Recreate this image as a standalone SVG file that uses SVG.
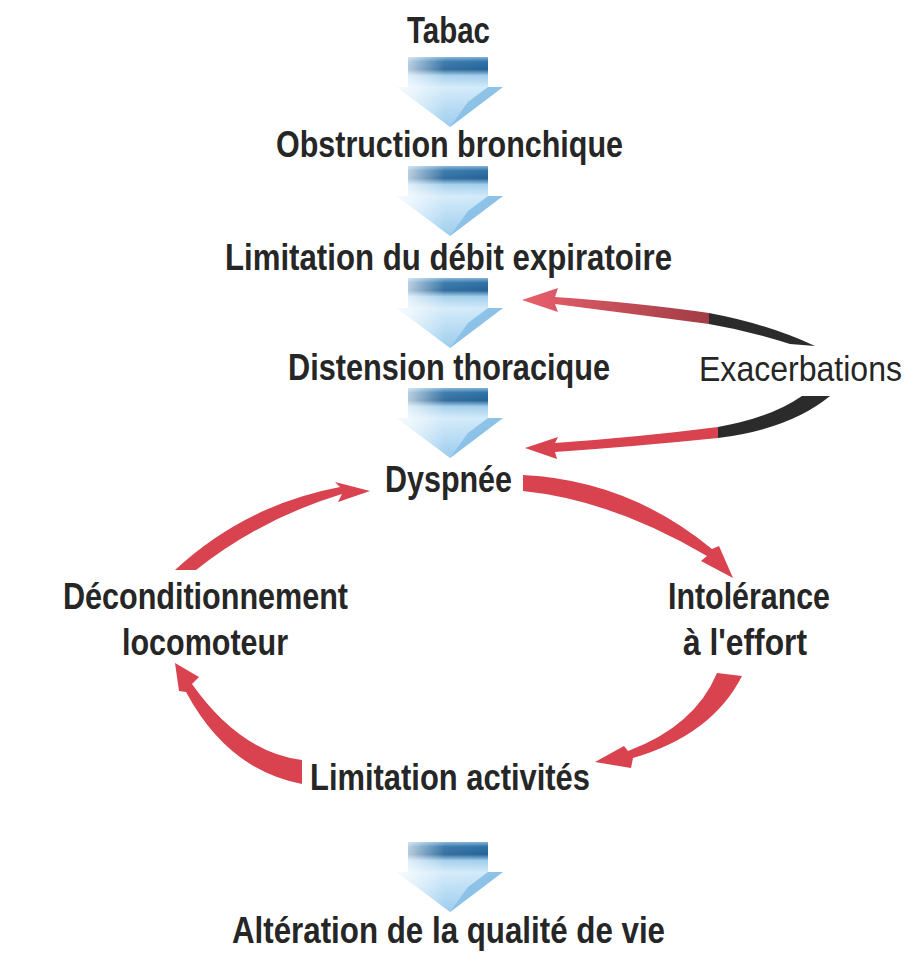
<svg xmlns="http://www.w3.org/2000/svg" xmlns:xlink="http://www.w3.org/1999/xlink" width="921" height="955" viewBox="0 0 921 955">
<style>
text{font-family:"Liberation Sans Narrow","Liberation Sans","DejaVu Sans Condensed",Arial,sans-serif;font-size:36px;font-weight:bold;fill:#262626}
.red{fill:#d9424f}
.blk{fill:#2b2b2b}
</style>
<defs>
<linearGradient id="band" x1="0" y1="0" x2="0" y2="1">
<stop offset="0" stop-color="#7fb2d8"/>
<stop offset="0.15" stop-color="#2a6fa6"/>
<stop offset="0.4" stop-color="#1f5f93"/>
<stop offset="0.6" stop-color="#9fcdec"/>
<stop offset="1" stop-color="#d4ebf9"/>
</linearGradient>
<linearGradient id="tri" x1="0" y1="0" x2="0" y2="1">
<stop offset="0" stop-color="#d2eafa"/>
<stop offset="1" stop-color="#93c8ec"/>
</linearGradient>
<linearGradient id="fade" x1="0" y1="0" x2="1" y2="0">
<stop offset="0" stop-color="#fff" stop-opacity="0.85"/>
<stop offset="0.45" stop-color="#fff" stop-opacity="0.1"/>
<stop offset="1" stop-color="#fff" stop-opacity="0"/>
</linearGradient>
<linearGradient id="upRed" gradientUnits="userSpaceOnUse" x1="522" y1="0" x2="709" y2="0">
<stop offset="0" stop-color="#e8606c"/>
<stop offset="1" stop-color="#a13c45"/>
</linearGradient>
<g id="blockArrow">
<rect x="0" y="0" width="80" height="31" fill="url(#band)"/>
<polygon points="-11,30 95,30 42,70" fill="url(#tri)"/>
<polygon points="80,30 95,30 42,70 60,45" fill="#7ab8e2" opacity="0.8"/>
<polygon points="-11,0 95,0 95,30 42,70 -11,30" fill="url(#fade)"/>
</g>
</defs>

<g id="connectors">
<use xlink:href="#blockArrow" x="408" y="57"/>
<use xlink:href="#blockArrow" x="408" y="166"/>
<use xlink:href="#blockArrow" x="408" y="278"/>
<use xlink:href="#blockArrow" x="408" y="388"/>
<use xlink:href="#blockArrow" x="408" y="842"/>
<!-- Exacerbations -> Limitation du débit -->
<path fill="url(#upRed)" d="M522,300 L558,288 L555,297 Q640,303 709,313 L709,324 Q640,315 555,304 L558,312 Z"/>
<path class="blk" d="M709,313 Q768,324 815,346 L790,344 Q750,331 709,324 Z"/>
<!-- Exacerbations -> Dyspnée -->
<path class="red" d="M525,448 L558,437 L555,443 Q640,437 718,427 L718,438 Q640,446 555,452 L557,459 Z"/>
<path class="blk" d="M718,427 Q770,418 802,396 L830,396 Q790,429 718,438 Z"/>
<!-- cycle -->
<path class="red" d="M523,475 Q628,480 712,549 L719,546 L733,578 L701,561 L707,556 Q612,500 523,491 Z"/>
<path class="red" d="M742,676 Q712,735 633,758 L631,768 L595,762 L624,746 L628,751 Q695,726 717,673 Z"/>
<path class="red" d="M302,760 Q240,752 192,684 L199,677 L175,663 L179,691 L186,692 Q228,770 302,784 Z"/>
<path class="red" d="M175,570 Q245,505 340,487 L335,482 L370,491 L338,502 L342,494 Q262,518 196,570 Z"/>
</g>

<g id="tabac"><text x="407" y="43" textLength="83" lengthAdjust="spacingAndGlyphs">Tabac</text></g>
<g id="obstruction"><text x="276" y="157" textLength="347" lengthAdjust="spacingAndGlyphs">Obstruction bronchique</text></g>
<g id="limitation-debit"><text x="225" y="270" textLength="447" lengthAdjust="spacingAndGlyphs">Limitation du débit expiratoire</text></g>
<g id="distension"><text x="288" y="380" textLength="322" lengthAdjust="spacingAndGlyphs">Distension thoracique</text></g>
<g id="exacerbations"><text x="699" y="381" textLength="203" lengthAdjust="spacingAndGlyphs" style="font-weight:normal;font-size:35px">Exacerbations</text></g>
<g id="dyspnee"><text x="385" y="492" textLength="127" lengthAdjust="spacingAndGlyphs">Dyspnée</text></g>
<g id="deconditionnement">
<text x="63" y="609" textLength="285" lengthAdjust="spacingAndGlyphs">Déconditionnement</text>
<text x="122" y="655" textLength="166" lengthAdjust="spacingAndGlyphs">locomoteur</text>
</g>
<g id="intolerance">
<text x="668" y="609" textLength="162" lengthAdjust="spacingAndGlyphs">Intolérance</text>
<text x="683" y="655" textLength="124" lengthAdjust="spacingAndGlyphs">à l'effort</text>
</g>
<g id="limitation-activites"><text x="310" y="790" textLength="280" lengthAdjust="spacingAndGlyphs">Limitation activités</text></g>
<g id="alteration"><text x="232" y="943" textLength="433" lengthAdjust="spacingAndGlyphs">Altération de la qualité de vie</text></g>
</svg>
